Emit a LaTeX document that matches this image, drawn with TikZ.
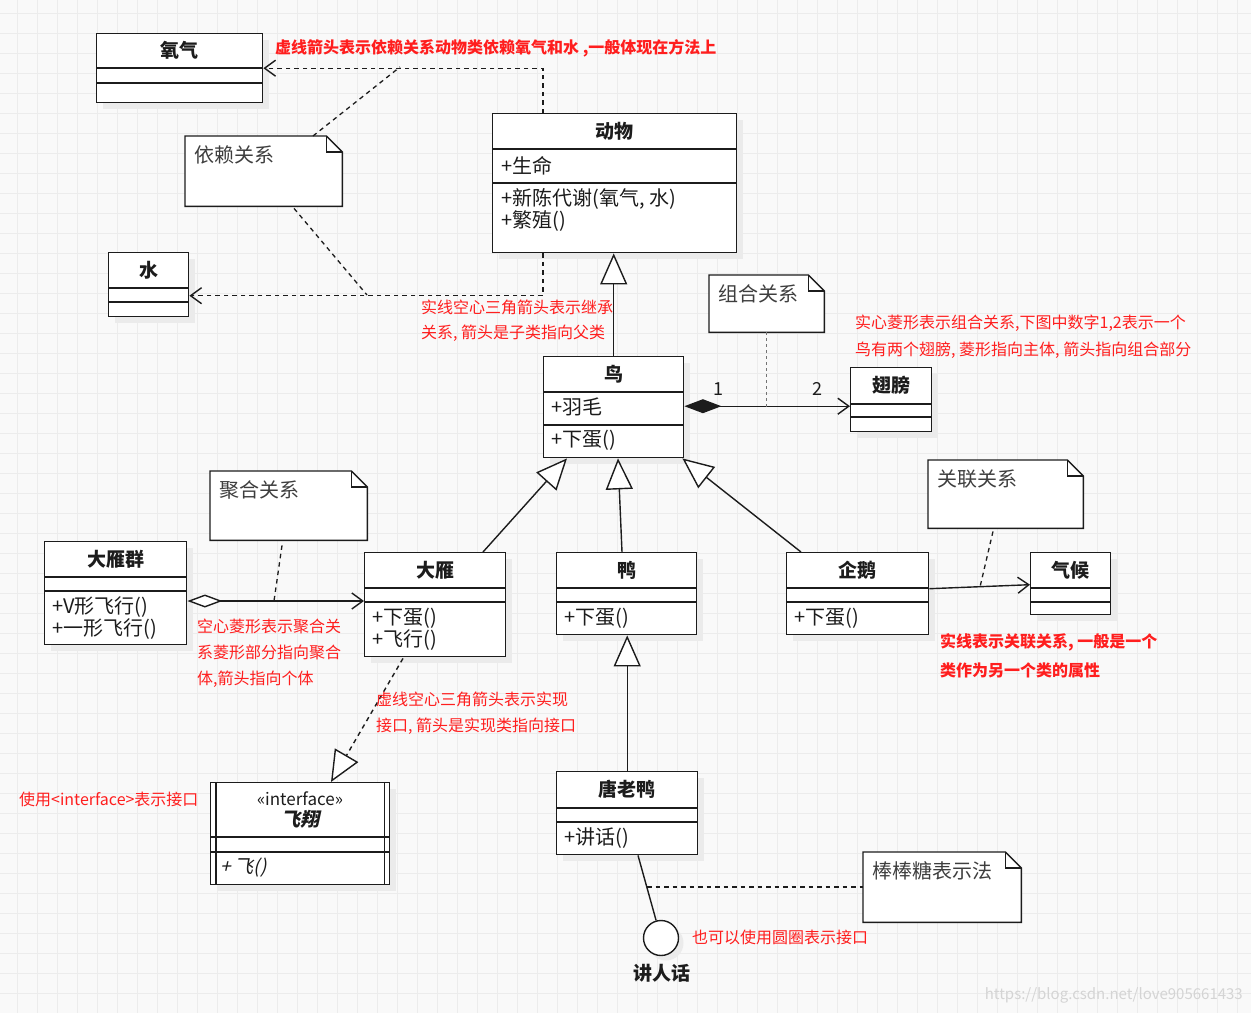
\documentclass[tikz,border=0pt]{standalone}
\usepackage{fontspec}
\setmainfont{Noto Sans CJK SC}
\newfontfamily\slantf{Noto Sans CJK SC}[FakeSlant=0.22, BoldFeatures={FakeSlant=0.22}]
\usetikzlibrary{arrows.meta,calc,shadows}
\definecolor{bgc}{HTML}{F9F9F9}
\definecolor{gridc}{HTML}{ECECEC}
\definecolor{rd}{HTML}{FF1E1E}
\definecolor{ln}{HTML}{1C1C1C}
\tikzset{
  classbox/.style={draw=ln, line width=1.4pt, fill=white, inner sep=0pt,
    general shadow={shadow xshift=6pt, shadow yshift=-6pt, fill=black!8}},
  notebg/.style={draw=none, inner sep=0pt},
  noteline/.style={draw=ln, line width=1.4pt, fill=white},
  cline/.style={draw=ln, line width=1.4pt},
  ctitle/.style={font=\bfseries\fontsize{19}{22}\selectfont, text=ln, inner sep=0pt},
  member/.style={font=\fontsize{20}{23}\selectfont, text=ln, anchor=west, inner sep=0pt},
  ntext/.style={font=\fontsize{20}{22}\selectfont, text=ln!85, anchor=west, inner sep=0pt},
  rnote/.style={font=\fontsize{16}{19}\selectfont, text=rd, anchor=west, inner sep=0pt},
  rnoteb/.style={font=\bfseries\fontsize{16}{19}\selectfont, text=rd, anchor=west, inner sep=0pt},
  mult/.style={font=\fontsize{18}{21}\selectfont, text=ln, inner sep=0pt},
  depline/.style={draw=ln, line width=1.4pt, dash pattern=on 4.5pt off 4pt,
    -{Straight Barb[length=11pt,width=16pt]}},
  notelink/.style={draw=ln, line width=1.3pt, dash pattern=on 4.5pt off 4pt},
  inherit/.style={draw=ln, line width=1.4pt, -{Triangle[length=31pt,width=27pt,fill=white]}},
  realize/.style={inherit, dash pattern=on 4.5pt off 4pt},
  comp/.style={draw=ln, line width=1.4pt,
    {Diamond[length=37pt,width=14pt,fill=ln]}-{Straight Barb[length=11pt,width=16pt]}},
  agg/.style={draw=ln, line width=1.4pt,
    {Diamond[length=35pt,width=13pt,fill=white]}-{Straight Barb[length=11pt,width=16pt]}},
  assoc/.style={draw=ln, line width=1.4pt, -{Straight Barb[length=11pt,width=16pt]}},
  lollip/.style={circle, draw=ln, line width=1.4pt, fill=white, minimum size=35pt, inner sep=0pt,
    general shadow={shadow xshift=5pt, shadow yshift=-5pt, fill=black!8}},
}
\newcommand\umlclass[8]{%
  \node[classbox, minimum width=#4pt, minimum height=#5pt, anchor=north west] (#1) at (#2,#3) {};
  \draw[cline] ([yshift=-#7pt]#1.north west) -- ([yshift=-#7pt]#1.north east);
  \draw[cline] ([yshift=-#8pt]#1.north west) -- ([yshift=-#8pt]#1.north east);
  \node[ctitle] (#1-t) at ($(#1.north west)!0.5!([yshift=-#7pt]#1.north east)$) {#6};
}
\newcommand\umlnote[6]{%
  \node[notebg, minimum width=#4pt, minimum height=#5pt, anchor=north west] (#1) at (#2,#3) {};
  \draw[noteline] (#1.north west) -- ([xshift=-16pt]#1.north east) -- ([yshift=-16pt]#1.north east)
    -- (#1.south east) -- (#1.south west) -- cycle;
  \draw[cline] ([xshift=-16pt]#1.north east) -- ([xshift=-16pt,yshift=-16pt]#1.north east)
    -- ([yshift=-16pt]#1.north east);
  \node[ntext] (#1-t) at ([xshift=9pt,yshift=-19pt]#1.north west) {#6};
}
\begin{document}
\begin{tikzpicture}[x=1pt,y=-1pt]
\useasboundingbox (0,0) rectangle (1251,1013);
\fill[bgc] (0,0) rectangle (1251,1013);
\foreach \x in {17,37,...,1250} \draw[gridc, line width=0.8pt] (\x,0) -- (\x,1013);
\foreach \y in {13,33,...,1012} \draw[gridc, line width=0.8pt] (0,\y) -- (1251,\y);

% notes
\umlnote{yl}{185}{136}{157}{70}{依赖关系}
\umlnote{zh}{709}{275}{115}{57}{组合关系}
\umlnote{jh}{210}{471}{157}{69}{聚合关系}
\umlnote{gl}{928}{460}{155}{68}{关联关系}
\umlnote{bbt}{863}{852}{158}{70}{棒棒糖表示法}

% classes
\umlclass{yq}{96}{33}{166}{69}{氧气}{35}{50}
\umlclass{dw}{492}{113}{244}{139}{动物}{36}{70}
\node[member] (dw-a1) at ($(dw.north west)+(9,53)$) {+生命};
\node[member] (dw-o1) at ($(dw.north west)+(9,86)$) {+新陈代谢(氧气, 水)};
\node[member] (dw-o2) at ($(dw.north west)+(9,108)$) {+繁殖()};
\umlclass{sh}{108}{252}{80}{64}{水}{36}{50}
\umlclass{bird}{543}{356}{140}{101}{鸟}{36}{69}
\node[member] (bird-a1) at ($(bird.north west)+(8,51)$) {+羽毛};
\node[member] (bird-o1) at ($(bird.north west)+(8,84)$) {+下蛋()};
\umlclass{wing}{850}{367}{81}{64}{翅膀}{37}{50}
\umlclass{dyq}{44}{541}{142}{103}{大雁群}{36}{50}
\node[member] (dyq-o1) at ($(dyq.north west)+(8,66)$) {+V形飞行()};
\node[member] (dyq-o2) at ($(dyq.north west)+(8,88)$) {+一形飞行()};
\umlclass{dy}{364}{552}{141}{104}{大雁}{36}{50}
\node[member] (dy-o1) at ($(dy.north west)+(8,66)$) {+下蛋()};
\node[member] (dy-o2) at ($(dy.north west)+(8,88)$) {+飞行()};
\umlclass{duck}{556}{552}{140}{82}{鸭}{36}{50}
\node[member] (duck-o1) at ($(duck.north west)+(8,66)$) {+下蛋()};
\umlclass{qe}{786}{552}{142}{82}{企鹅}{36}{50}
\node[member] (qe-o1) at ($(qe.north west)+(8,66)$) {+下蛋()};
\umlclass{qh}{1030}{552}{80}{62}{气候}{36}{50}
\umlclass{tly}{556}{771}{141}{83}{唐老鸭}{37}{51}
\node[member] (tly-o1) at ($(tly.north west)+(8,67)$) {+讲话()};

% interface
\node[classbox, minimum width=179pt, minimum height=102pt, anchor=north west] (fx) at (210,782) {};
\draw[cline] ([xshift=6pt]fx.north west) -- ([xshift=6pt]fx.south west);
\draw[cline] ([xshift=-6pt]fx.north east) -- ([xshift=-6pt]fx.south east);
\draw[cline] ([yshift=-55pt]fx.north west) -- ([yshift=-55pt]fx.north east);
\draw[cline] ([yshift=-70pt]fx.north west) -- ([yshift=-70pt]fx.north east);
\node[font=\fontsize{17}{20}\selectfont, text=ln, inner sep=0pt] (fx-s) at ($(fx.north west)+(90,17)$) {«interface»};
\node[font=\slantf\bfseries\fontsize{19}{22}\selectfont, text=ln, inner sep=0pt] (fx-t) at ($(fx.north west)+(90,37)$) {飞翔};
\node[member, font=\slantf\fontsize{19}{23}\selectfont] (fx-o1) at ($(fx.north west)+(10,86)$) {+ 飞()};

% lollipop
\node[lollip] (lp) at (661,938) {};
\node[ctitle] (lp-t) at (662,973) {讲人话};
\draw[cline] ($(tly.south west)+(82,0)$) -- (lp);
\coordinate (lk) at (647,887);
\draw[notelink] (lk) -- (bbt.west |- lk);

% dependencies
\draw[depline] ($(dw.north west)+(51,0)$) |- (yq.east);
\draw[depline] ($(dw.south west)+(51,0)$) |- ([yshift=-11pt]sh.east);
\coordinate (yla) at (400,67);
\coordinate (ylb) at (367,295);
\draw[notelink] ($(yl.north west)+(128,0)$) -- (yla);
\draw[notelink] ($(yl.south west)+(109,2)$) -- (ylb);

% inheritance
\draw[inherit] (bird.north) -- (bird.north |- dw.south);
\draw[inherit] ($(dy.north west)+(119,0)$) -- ($(bird.south west)+(24,0)$);
\draw[inherit] ($(duck.north west)+(66,0)$) -- ($(bird.south west)+(75,0)$);
\draw[inherit] ($(qe.north west)+(15,0)$) -- ($(bird.south east)+(-2,0)$);
\draw[inherit] (tly.north) -- (tly.north |- duck.south);

% composition
\draw[comp] ([yshift=1pt]bird.east) -- ([yshift=1pt]bird.east -| wing.west);
\node[mult] (m1) at (718,389) {1};
\node[mult] (m2) at (817,389) {2};
\draw[draw=black!55, line width=1pt, dash pattern=on 3pt off 3pt] (zh.south) -- (zh.south |- bird.east);

% aggregation
\coordinate (aggy) at (0,601);
\draw[agg] (dyq.east |- aggy) -- (dy.west |- aggy);
\coordinate (jha) at (274,601);
\draw[notelink] ($(jh.south west)+(72,5)$) -- (jha);

% association
\draw[assoc] ([yshift=5pt]qe.east) -- ([yshift=-1pt]qh.west);
\coordinate (gla) at (980,587);
\draw[notelink] ($(gl.south west)+(65,3)$) -- (gla);

% realization
\draw[realize] ($(dy.south west)+(39,1)$) -- ($(fx.north west)+(121,0)$);

% red annotations
\node[rnoteb] (r1) at (275,48) {虚线箭头表示依赖关系动物类依赖氧气和水 ,一般体现在方法上};
\node[rnote] (r2) at (421,307) {实线空心三角箭头表示继承};
\node[rnote] (r3) at (421,333) {关系, 箭头是子类指向父类};
\node[rnote] (r4) at (855,323) {实心菱形表示组合关系,下图中数字1,2表示一个};
\node[rnote] (r5) at (855,350) {鸟有两个翅膀, 菱形指向主体, 箭头指向组合部分};
\node[rnote] (r6) at (197,626) {空心菱形表示聚合关};
\node[rnote] (r7) at (197,652) {系菱形部分指向聚合};
\node[rnote] (r8) at (197,679) {体,箭头指向个体};
\node[rnote] (r9) at (376,699) {虚线空心三角箭头表示实现};
\node[rnote] (r10) at (376,726) {接口, 箭头是实现类指向接口};
\node[rnoteb] (r11) at (940,642) {实线表示关联关系, 一般是一个};
\node[rnoteb] (r12) at (940,670) {类作为另一个类的属性};
\node[rnote] (r13) at (19,799) {使用<interface>表示接口};
\node[rnote] (r14) at (692,937) {也可以使用圆圈表示接口};

% watermark
\node[font=\fontsize{15}{17}\selectfont, text=black!17, anchor=east, inner sep=0pt] (wm) at (1243,995) {https://blog.csdn.net/love905661433};
\end{tikzpicture}
\end{document}
